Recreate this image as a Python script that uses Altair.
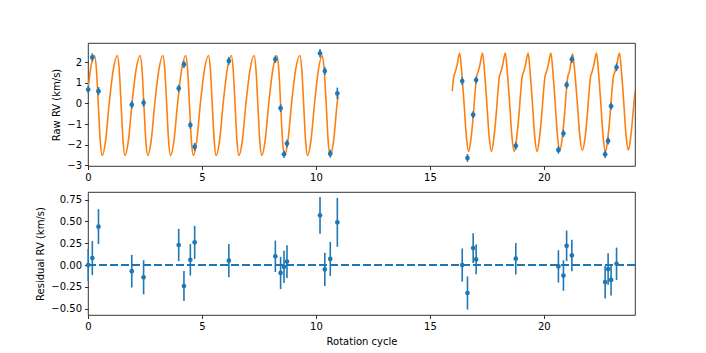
import altair as alt
import pandas as pd

# ---- observed points ----
t_obs = [0.01, 0.19, 0.46, 1.92, 2.44, 3.98, 4.21, 4.49, 4.68, 6.18, 8.22, 8.45, 8.60, 8.73,
         10.18, 10.39, 10.63, 10.94, 16.42, 16.65, 16.90, 17.03, 18.77, 20.64, 20.86, 21.00,
         21.23, 22.69, 22.82, 22.95, 23.19]
rv_raw = [0.68, 2.24, 0.60, -0.06, 0.03, 0.73, 1.90, -1.05, -2.11, 2.07, 2.15, -0.23, -2.47, -1.95,
          2.44, 1.58, -2.44, 0.49, 1.09, -2.65, -0.55, 1.14, -2.06, -2.26, -1.46, 0.90,
          2.15, -2.47, -1.82, -0.13, 1.76]
rv_res = [0.00, 0.08, 0.44, -0.07, -0.14, 0.23, -0.24, 0.06, 0.26, 0.05, 0.10, -0.09, -0.02, 0.04,
          0.57, -0.05, 0.07, 0.49, 0.00, -0.32, 0.195, 0.065, 0.073, -0.015, -0.12, 0.22,
          0.11, -0.195, -0.046, -0.17, 0.015]
rv_err = [0.185, 0.195, 0.20, 0.187, 0.195, 0.185, 0.172, 0.18, 0.19, 0.19, 0.18, 0.185, 0.185, 0.187,
          0.21, 0.19, 0.195, 0.28, 0.19, 0.19, 0.17, 0.17, 0.18, 0.185, 0.175, 0.175,
          0.18, 0.187, 0.18, 0.18, 0.185]

# ---- model curve, first season ----
seg1_x = [0.00, 0.11, 0.29, 0.37, 0.45, 0.535, 0.62, 0.775, 0.93,
          1.11, 1.29, 1.37, 1.45, 1.535, 1.62, 1.775, 1.93,
          2.11, 2.29, 2.37, 2.45, 2.535, 2.62, 2.775, 2.93,
          3.11, 3.29, 3.37, 3.45, 3.535, 3.62, 3.775, 3.93,
          4.11, 4.29, 4.37, 4.45, 4.535, 4.62, 4.775, 4.93,
          5.11, 5.29, 5.37, 5.45, 5.535, 5.62, 5.775, 5.93,
          6.11, 6.29, 6.37, 6.45, 6.535, 6.62, 6.775, 6.93,
          7.11, 7.29, 7.37, 7.45, 7.535, 7.62, 7.775, 7.93,
          8.11, 8.29, 8.37, 8.45, 8.535, 8.62, 8.775, 8.93,
          9.11, 9.30, 9.38, 9.46, 9.545, 9.63, 9.785, 9.94,
          10.11, 10.28, 10.36, 10.45, 10.535, 10.63, 10.78, 10.93, 10.97]
seg1_y = [0.65, 1.65, 2.33, 1.65, 0.00, -1.78, -2.52, -1.78, 0.00,
          1.65, 2.33, 1.65, 0.00, -1.78, -2.52, -1.78, 0.00,
          1.65, 2.33, 1.65, 0.00, -1.78, -2.52, -1.78, 0.00,
          1.65, 2.33, 1.65, 0.00, -1.78, -2.52, -1.78, 0.00,
          1.65, 2.33, 1.65, 0.00, -1.78, -2.52, -1.78, 0.00,
          1.65, 2.33, 1.65, 0.00, -1.78, -2.52, -1.78, 0.00,
          1.65, 2.33, 1.65, 0.00, -1.78, -2.52, -1.78, 0.00,
          1.65, 2.33, 1.65, 0.00, -1.78, -2.52, -1.78, 0.00,
          1.65, 2.33, 1.65, 0.00, -1.78, -2.52, -1.78, 0.00,
          1.65, 2.33, 1.65, 0.00, -1.78, -2.52, -1.78, 0.00,
          1.65, 2.33, 1.65, 0.00, -1.78, -2.52, -1.78, 0.00, 0.35]

# ---- model curve, second season ----
seg2_x = [15.98,
          16.05, 16.12, 16.19, 16.31, 16.40, 16.50, 16.60, 16.70, 16.80, 16.90, 17.00,
          17.05, 17.12, 17.19, 17.31, 17.40, 17.50, 17.60, 17.70, 17.80, 17.90, 18.00,
          18.05, 18.12, 18.19, 18.31, 18.40, 18.50, 18.60, 18.70, 18.80, 18.90, 19.00,
          19.05, 19.12, 19.19, 19.31, 19.40, 19.50, 19.60, 19.70, 19.80, 19.90, 20.00,
          20.05, 20.12, 20.19, 20.31, 20.40, 20.50, 20.60, 20.70, 20.80, 20.90, 21.00,
          21.05, 21.12, 21.17, 21.26, 21.36, 21.47, 21.58, 21.69, 21.80, 21.90, 22.00,
          22.05, 22.12, 22.19, 22.31, 22.40, 22.50, 22.60, 22.71, 22.80, 22.90, 23.00,
          23.05, 23.12, 23.19, 23.32, 23.41, 23.51, 23.61, 23.71, 23.80, 23.90, 24.00]
seg2_y = [0.60,
          1.30, 1.55, 1.85, 2.45, 1.50, 0.00, -1.60, -2.33, -1.75, -0.65, 0.75,
          1.30, 1.55, 1.85, 2.45, 1.50, 0.00, -1.60, -2.33, -1.75, -0.65, 0.75,
          1.30, 1.55, 1.85, 2.45, 1.50, 0.00, -1.60, -2.33, -1.75, -0.65, 0.75,
          1.30, 1.55, 1.85, 2.45, 1.50, 0.00, -1.60, -2.33, -1.75, -0.65, 0.75,
          1.30, 1.55, 1.85, 2.45, 1.50, 0.00, -1.60, -2.30, -1.75, -0.65, 0.75,
          1.30, 1.55, 1.85, 2.42, 1.50, 0.00, -1.60, -2.27, -1.75, -0.65, 0.75,
          1.30, 1.55, 1.85, 2.45, 1.50, 0.00, -1.60, -2.36, -1.75, -0.65, 0.75,
          1.30, 1.55, 1.85, 2.45, 1.50, 0.00, -1.60, -2.27, -1.75, -0.65, 0.60]

x_ticks = [0, 5, 10, 15, 20]
raw_ticks = [-3, -2, -1, 0, 1, 2]
res_ticks = [-0.5, -0.25, 0, 0.25, 0.5, 0.75]

BLUE = "#1f77b4"
ORANGE = "#ff7f0e"

obs = pd.DataFrame({"t": t_obs, "raw": rv_raw, "res": rv_res, "err": rv_err})
obs["raw_lo"] = obs["raw"] - obs["err"]
obs["raw_hi"] = obs["raw"] + obs["err"]
obs["res_lo"] = obs["res"] - obs["err"]
obs["res_hi"] = obs["res"] + obs["err"]

curve = pd.concat([
    pd.DataFrame({"t": seg1_x, "rv": seg1_y, "seg": "a"}),
    pd.DataFrame({"t": seg2_x, "rv": seg2_y, "seg": "b"}),
], ignore_index=True)

xscale = alt.Scale(domain=[0, 24], nice=False, zero=False)
xaxis_top = alt.Axis(values=x_ticks, tickCount=20, format="d", title=None, labelOverlap=False)
xaxis_bot = alt.Axis(values=x_ticks, tickCount=20, format="d", title="Rotation cycle", labelOverlap=False)

W, H = 547, 123

ytop = alt.Scale(domain=[-3.04, 2.94], nice=False, zero=False)
model_line = alt.Chart(curve).mark_line(color=ORANGE, strokeWidth=1.6, interpolate="monotone", clip=True).encode(
    x=alt.X("t:Q", scale=xscale, axis=xaxis_top),
    y=alt.Y("rv:Q", scale=ytop,
            axis=alt.Axis(values=raw_ticks, tickCount=20, format="d", title="Raw RV (km/s)", labelOverlap=False)),
    detail="seg:N",
)
top_err = alt.Chart(obs).mark_rule(color=BLUE, strokeWidth=1.6).encode(
    x="t:Q", y="raw_lo:Q", y2="raw_hi:Q")
top_pts = alt.Chart(obs).mark_circle(color=BLUE, size=22, opacity=1).encode(
    x="t:Q", y="raw:Q")
top = alt.layer(model_line, top_err, top_pts).properties(width=W, height=H)

ybot = alt.Scale(domain=[-0.572, 0.837], nice=False, zero=False)
zero_line = alt.Chart(obs).mark_rule(color=BLUE, strokeWidth=1.6, strokeDash=[7.7, 3.3]).encode(
    y=alt.datum(0))
bot_err = alt.Chart(obs).mark_rule(color=BLUE, strokeWidth=1.6).encode(
    x=alt.X("t:Q", scale=xscale, axis=xaxis_bot),
    y=alt.Y("res_lo:Q", scale=ybot,
            axis=alt.Axis(values=res_ticks, tickCount=20, format=".2f",
                          title="Residual RV (km/s)", labelOverlap=False)),
    y2="res_hi:Q")
bot_pts = alt.Chart(obs).mark_circle(color=BLUE, size=22, opacity=1).encode(
    x="t:Q", y="res:Q")
bottom = alt.layer(bot_err, zero_line, bot_pts).properties(width=W, height=H)

chart = alt.vconcat(top, bottom, spacing=8).properties(
    padding={"left": 27, "top": 34, "right": 5, "bottom": 5}
).configure_view(
    stroke="black", strokeWidth=0.8
).configure_axis(
    domain=False, grid=False,
    tickColor="black", tickSize=3.5, tickWidth=0.8,
    labelFont="DejaVu Sans", labelFontSize=10, labelColor="black", labelPadding=3,
    labelOverlap=False,
    titleFont="DejaVu Sans", titleFontSize=10, titleFontWeight="normal", titleColor="black",
    titlePadding=5,
).configure_axisY(labelFlush=False).configure_axisX(labelFlush=False)

chart.save("out.html", embed_options={"renderer": "svg", "actions": False})
